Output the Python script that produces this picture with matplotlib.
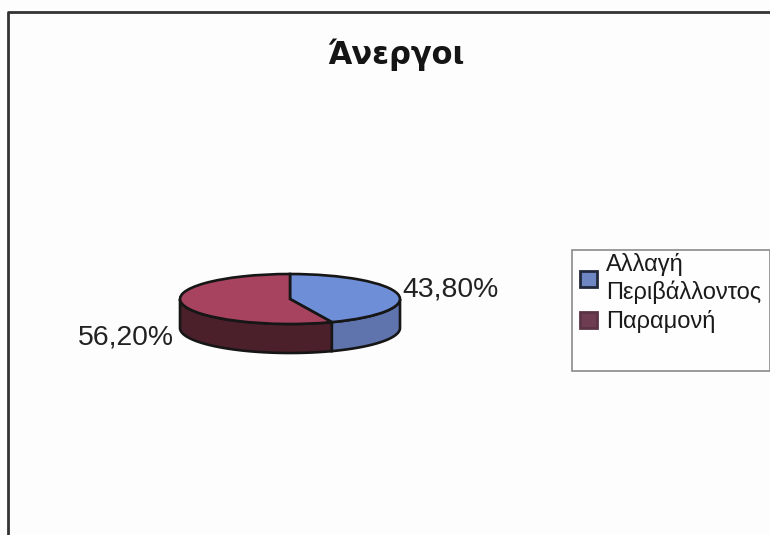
import numpy as np
import matplotlib
matplotlib.use('Agg')
import matplotlib.pyplot as plt
from matplotlib.patches import Rectangle, Patch
from matplotlib.lines import Line2D

title = 'Άνεργοι'
categories = ['Αλλαγή\nΠεριβάλλοντος', 'Παραμονή']
values = [43.80, 56.20]
top_colors = ['#6f8ed8', '#a7435f']
side_colors = ['#5f74ad', '#4b202b']
swatch_faces = ['#6f86c4', '#6e3d52']
swatch_edges = ['#22283c', '#5a3345']

W, H = 770, 535
plt.rcParams['font.family'] = ['Liberation Sans', 'DejaVu Sans']
fig = plt.figure(figsize=(W / 100, H / 100), dpi=100, facecolor='#fdfdfd')

def fx(px):
    return px / W

def fy(py):
    return 1 - py / H

# pie axes cover just the top ellipse, the squash comes from the axes shape
cx, cy, rx, ry = 290, 299, 110, 25
depth = 29 / ry
ax = fig.add_axes([fx(cx - rx), fy(cy + ry), 2 * rx / W, 2 * ry / H])

wedges, _ = ax.pie(values, colors=top_colors, startangle=90, counterclock=False,
                   radius=1, wedgeprops={'edgecolor': '#161616', 'linewidth': 1.9, 'zorder': 3})
ax.set_aspect('auto')
ax.set_xlim(-1, 1)
ax.set_ylim(-1, 1)
ax.axis('off')
for w in wedges:
    w.set_clip_on(False)

# side walls, only the front half of the rim is visible
start = 90.0
for val, col in zip(values, side_colors):
    end = start - val / sum(values) * 360
    t = np.radians(np.linspace(start, end, 200))
    t = t[np.sin(t) <= 0]
    if len(t) > 1:
        xs = np.cos(t)
        ys = np.sin(t)
        ax.fill(np.r_[xs, xs[::-1]], np.r_[ys, ys[::-1] - depth], facecolor=col,
                edgecolor='#161616', linewidth=1.9, zorder=2, clip_on=False)
    start = end

fig.text(fx(396), fy(55), title, fontsize=22, fontweight='bold', ha='center', va='center',
         family=['DejaVu Sans'], color='#151515')

pct = [f'{v:.2f}%'.replace('.', ',') for v in values]
fig.text(fx(402), fy(290), pct[0], fontsize=20.4, ha='left', va='center', color='#222222')
fig.text(fx(174), fy(337), pct[1], fontsize=20.4, ha='right', va='center', color='#222222')

# outer chart frame, cropped on the right and at the bottom
fig.add_artist(Line2D([fx(8), fx(8), fx(770)], [fy(535), fy(12), fy(12)], color='#333333', lw=2))

# legend box
fig.add_artist(Rectangle((fx(572), fy(371)), 198 / W, 121 / H, transform=fig.transFigure,
                         facecolor='#fefefe', edgecolor='#8a8a8a', lw=1.2))
handles = [Patch(facecolor=f, edgecolor=e, linewidth=2) for f, e in zip(swatch_faces, swatch_edges)]
leg = fig.legend(handles, categories, loc='upper left', bbox_to_anchor=(fx(578), fy(251)),
                 frameon=False, fontsize=17, handlelength=0.7, handleheight=0.7, handletextpad=0.4,
                 labelspacing=0.25, borderpad=0.1, borderaxespad=0, labelcolor='#1a1a1a')
for txt in leg.get_texts():
    txt.set_linespacing(1.25)

fig.savefig('out.png', dpi=100, facecolor=fig.get_facecolor())
